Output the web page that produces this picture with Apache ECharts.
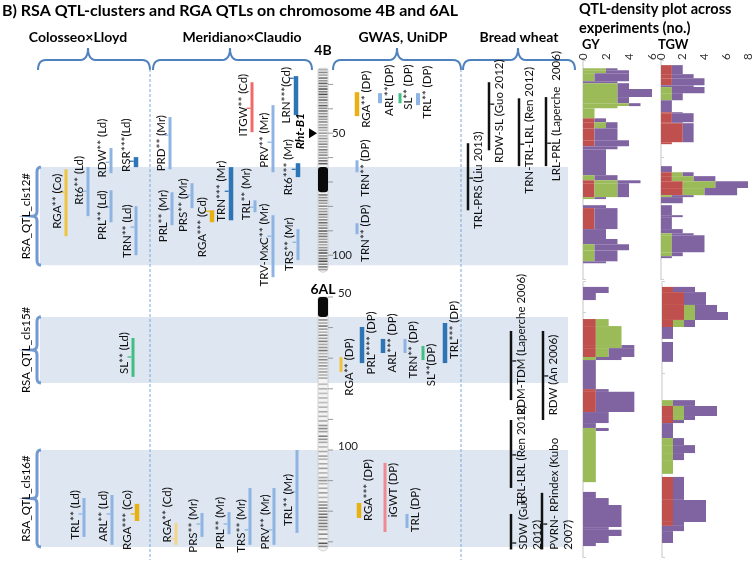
<!DOCTYPE html>
<html><head><meta charset="utf-8">
<script src="https://cdn.jsdelivr.net/npm/echarts@6/dist/echarts.min.js"></script>
<style>html,body{margin:0;padding:0;background:#fff}#c{width:755px;height:565px}</style>
</head><body><div id="c"></div>
<script>
// ================= DATA =================
const chartTitle = 'B) RSA QTL-clusters and RGA QTLs on chromosome 4B and 6AL';
const densityTitle = ['QTL-density plot across', 'experiments (no.)'];
const panelHeaders = ['Colosseo×Lloyd', 'Meridiano×Claudio', 'GWAS, UniDP', 'Bread wheat'];
const densityTraits = ['GY', 'TGW'];
const gyTicks = [0, 2, 4, 6];
const tgwTicks = [0, 2, 4, 6, 8];
const chrNames = ['4B', '6AL'];
const chrExtent4B = [23.4, 107];
const chrExtent6AL = [50, 133];
const chrSolid4B = [[63.9, 74.2]];
const chrSolid6AL = [[50, 56.5]];
const chrTicks4B = [30, 40, 50, 60, 70, 80, 90, 100];
const chrTicks6AL = [50, 60, 70, 80, 90, 100, 110, 120, 130];
const chrTickLabels = [50, 100];
const geneMarker4B = ['Rht-B1', 50];
// chromosome banding [cM, darkness]
const chrBands4B = [[24.0,0.3],[25.1,0.5],[26.2,0.35],[27.4,0.6],[28.5,0.45],[29.6,0.7],[30.8,0.5],[31.9,0.75],[33.0,0.55],[34.1,0.8],[35.3,0.5],[36.4,0.65],[37.5,0.4],[38.7,0.7],[39.8,0.5],[40.9,0.6],[42.0,0.45],[43.2,0.55],[44.3,0.4],[45.4,0.5],[46.6,0.35],[47.7,0.45],[48.8,0.3],[50.0,0.4],[51.1,0.3],[52.2,0.45],[53.4,0.35],[54.5,0.5],[55.6,0.4],[56.8,0.55],[57.9,0.4],[59.0,0.5],[60.2,0.45],[61.3,0.6],[62.5,0.7],[75.3,0.6],[76.4,0.45],[77.6,0.55],[78.7,0.4],[79.9,0.5],[81.0,0.35],[82.1,0.45],[83.3,0.6],[84.4,0.4],[85.5,0.5],[86.7,0.65],[87.8,0.4],[88.9,0.55],[90.1,0.7],[91.2,0.5],[92.3,0.6],[93.5,0.4],[94.6,0.5],[95.7,0.35],[96.9,0.45],[98.0,0.6],[99.1,0.75],[100.3,0.5],[101.4,0.65],[102.5,0.8],[103.7,0.55],[104.8,0.6],[105.9,0.4]];
const chrBands6AL = [[57.5,0.5],[58.5,0.35],[59.5,0.6],[60.5,0.4],[61.5,0.3],[62.5,0.5],[63.5,0.4],[64.5,0.55],[65.5,0.35],[66.5,0.45],[67.5,0.6],[68.5,0.3],[69.5,0.4],[70.5,0.5],[71.5,0.35],[72.5,0.45],[73.5,0.3],[74.5,0.4],[75.5,0.3],[76.5,0.35],[78.5,0.25],[80.0,0.3],[81.5,0.25],[83.0,0.3],[84.5,0.25],[86.0,0.3],[87.5,0.35],[89.0,0.3],[90.5,0.35],[92.0,0.45],[93.0,0.5],[94.0,0.4],[95.5,0.55],[96.5,0.45],[97.5,0.35],[99.0,0.3],[100.5,0.35],[102.0,0.4],[103.0,0.3],[104.5,0.35],[106.0,0.4],[107.5,0.3],[109.0,0.35],[110.0,0.45],[111.0,0.3],[112.5,0.35],[114.0,0.4],[115.5,0.3],[117.0,0.4],[118.0,0.5],[119.0,0.55],[120.0,0.45],[121.0,0.6],[122.0,0.65],[123.0,0.5],[124.0,0.6],[125.0,0.55],[126.0,0.45],[127.5,0.5],[129.0,0.4],[130.5,0.75],[131.5,0.5]];
// QTL clusters [name, start cM, end cM]
const clusters4B = [['RSA_QTL_cls12#', 63.9, 104.1]];
const clusters6AL = [['RSA_QTL_cls15#', 56.5, 78.1], ['RSA_QTL_cls16#', 100, 131.7]];
// QTLs [label, start cM, end cM, peak cM (null = none)]
const qtl4B = [
  ['RGA** (Co)', 64.8, 92.2, 74.2],
  ['Rt6** (Ld)', 63.9, 84.0, 73.8],
  ['RDW** (Ld)', 56.1, 66.4, 61.9],
  ['PRL** (Ld)', 73.4, 86.5, 80.3],
  ['RSR***(Ld)', 59.8, 63.9, 61.5],
  ['TRN** (Ld)', 79.9, 100.0, 88.5],
  ['PRD** (Mr)', 43.4, 64.8, 50.8],
  ['ITGW** (Cd)', 29.1, 49.6, 39.8],
  ['PRV** (Mr)', 38.5, 66.0, 53.7],
  ['LRN***(Cd)', 26.6, 42.6, 27.5],
  ['Rt6*** (Mr)', 62.3, 68.0, 64.8],
  ['PRL** (Mr)', 74.2, 87.7, 81.1],
  ['PRS** (Mr)', 70.5, 80.7, 75.4],
  ['RGA*** (Cd)', 81.6, 86.5, 82.0],
  ['TRN*** (Mr)', 63.9, 85.7, 73.8],
  ['TRL** (Mr)', 77.5, 82.4, 80.3],
  ['TRV-MxC** (Mr)', 83.6, 109.0, 92.2],
  ['TRS** (Mr)', 89.3, 102.0, 94.7],
  ['RGA** (DP)', 33.2, 43.0, null],
  ['ARL**(DP)', 33.6, 37.7, null],
  ['SL** (DP)', 33.6, 37.7, null],
  ['TRL** (DP)', 33.6, 38.5, null],
  ['TRN** (DP)', 61.1, 66.0, null],
  ['TRN** (DP)', 86.9, 91.4, null],
  ['RDW-SL (Guo 2012)', 29.1, 57.0, 38.1],
  ['TRN-TRL-LRL (Ren 2012)', 35.7, 63.5, 54.5],
  ['LRL-PRL (Laperche  2006)', 35.2, 63.5, 54.1],
  ['TRL-PRS (Liu 2013)', 54.1, 81.6, 68.4]
];
const qtl6AL = [
  ['SL** (Ld)', 63.4, 76.1, 69.6],
  ['TRL** (Ld)', 115.7, 128.4, 120.9],
  ['ARL** (Ld)', 114.7, 131.0, 120.9],
  ['RGA*** (Co)', 117.6, 123.2, 120.9],
  ['RGA** (Cd)', 123.9, 131.0, 129.0],
  ['PRS** (Mr)', 120.6, 128.4, 124.2],
  ['PRL** (Mr)', 120.3, 127.5, 124.2],
  ['TRS** (Mr)', 112.4, 131.0, 126.1],
  ['PRV** (Mr)', 112.4, 131.0, 126.1],
  ['TRL** (Mr)', 100.0, 127.1, 113.7],
  ['RGA** (DP)', 69.6, 74.5, null],
  ['PRL**** (DP)', 59.8, 71.6, null],
  ['ARL*** (DP)', 63.7, 68.3, null],
  ['TRN** (DP)', 63.7, 68.3, null],
  ['SL**(DP)', 66.0, 70.6, null],
  ['TRL*** (DP)', 58.5, 71.6, null],
  ['RGA*** (DP)', 117.3, 122.2, null],
  ['iGWT (DP)', 104.2, 126.8, null],
  ['TRL (DP)', 120.9, 125.5, null],
  ['RDM-TDM (Laperche 2006)', 61.1, 83.7, 70.9],
  ['RDW (An 2006)', 61.1, 90.2, 75.8],
  ['TRL-LRL (Ren 2012)', 90.2, 112.4, 101.6],
  ['SDW (Guo\n2012)', 120.9, 132.5, 130.4],
  ['PVRN- RPindex (Kubo\n2007)', 114.0, 132.5, 124.2]
];
// QTL density: [start cM, end cM, red, green, purple]
const gy4B = [[23.4,24.2,0,2,1],[24.2,25.4,0,2,2],[25.4,28.7,0,1,3],[28.7,29.5,0,0,3],[29.5,31.9,0,3,1],[31.9,35.2,0,3,3],[35.2,37.7,0,3,1],[37.7,38.9,0,4,1],[38.9,39.8,0,3,0],[39.8,43.9,0,1,0],[43.9,45.5,1,0,1],[45.5,48.0,1,1,1],[48.0,52.9,1,0,2],[52.9,55.3,1,0,3],[55.3,56.6,0,0,3],[56.6,67.2,0,0,2],[67.2,69.3,0,1,2],[69.3,70.5,1,2,2],[70.5,76.2,1,2,1],[76.2,77.0,0,1,1],[79.5,80.7,0,0,2],[80.7,89.3,1,0,2],[89.3,93.4,0,0,2],[93.4,95.5,0,0,3],[95.5,98.0,0,1,3],[98.0,102.5,0,1,2],[102.5,103.3,0,0,2]];
const tgw4B = [[22.1,25.8,1,0,1],[25.8,27.5,1,0,2],[27.5,30.3,1,0,3],[30.3,31.1,0,0,3],[31.1,33.6,0,1,3],[33.6,36.5,0,1,1],[36.5,41.4,0,0,1],[41.4,41.8,1,0,1],[41.8,45.5,1,0,2],[45.5,45.9,1,0,1],[45.9,53.7,2,0,1],[53.7,54.5,1,0,0],[63.5,66.0,0,0,1],[66.0,67.6,1,1,1],[67.6,69.7,1,2,2],[69.7,72.5,2,3,3],[72.5,75.4,2,2,3],[75.4,76.2,0,1,2],[76.2,78.7,0,0,2],[79.5,83.6,0,0,1],[83.6,84.4,0,0,2],[84.4,89.3,0,0,1],[89.3,91.0,0,0,2],[91.0,91.8,0,1,2],[91.8,98.8,0,1,3],[98.8,100.4,0,1,1],[100.4,101.2,0,0,1]];
const gy6AL = [[46.7,48.7,0,0,2],[48.7,51.0,0,0,1],[57.2,59.5,1,1,0],[59.5,65.7,1,2,0],[65.7,66.7,1,2,1],[66.7,69.6,1,1,2],[69.6,70.6,0,1,2],[70.6,80.1,0,0,1],[80.1,81.0,1,0,1],[81.0,87.6,1,0,3],[87.6,91.2,0,0,2],[91.2,92.8,0,0,1],[92.8,93.8,0,1,1],[93.8,110.5,0,1,0],[113.7,115.7,0,0,1],[115.7,118.0,0,0,2],[118.0,125.2,0,0,3],[125.2,126.1,0,0,2],[126.1,128.1,0,0,3],[128.1,130.4,0,0,2],[130.4,131.4,0,0,1]];
const tgw6AL = [[46.7,48.4,1,0,2],[48.4,52.6,2,0,2],[52.6,54.9,2,1,2],[54.9,57.5,2,1,3],[57.5,59.8,1,1,1],[59.8,63.7,0,0,1],[64.7,71.2,0,0,1],[83.7,85.6,0,1,2],[85.6,88.9,1,1,3],[88.9,90.2,1,1,1],[90.2,91.2,1,0,1],[91.2,96.1,0,0,1],[96.1,98.4,0,1,1],[98.4,101.0,0,1,2],[101.0,103.3,0,1,1],[103.3,107.8,0,1,0],[108.8,116.3,1,0,1],[116.3,123.5,1,0,3],[123.5,124.8,1,0,1],[124.8,126.5,0,0,2],[126.5,130.4,0,0,1]];

// ================= LAYOUT / STYLE =================
const FONT = 'Lato, "Open Sans", sans-serif';
const LABEL_FONT = '11.5px ' + FONT;
const STY = {
  lb: {c: '#8eb4e3', w: 3}, lbt: {c: '#8eb4e3', w: 4}, db: {c: '#2e75b6', w: 4.5},
  yl: {c: '#f0c33c', w: 3}, yt: {c: '#e8b010', w: 4.5}, ylt: {c: '#f4d488', w: 3},
  rd: {c: '#f06a6c', w: 3}, pk: {c: '#ee8a90', w: 3}, gn: {c: '#3fc081', w: 3}, bk: {c: '#111', w: 2.5}
};
// per QTL: [x, style, side(L=label left, R=label right, B=bread wheat, BS=bread wheat two-line), label centre cM]
const lay4B = [
  [66,'yl','L',77.9],[88,'lb','L',69.3],[111,'lb','L',56.1],[111,'lb','L',83.6],[136,'db','L',54.9],[136,'lb','L',90.2],
  [170,'lb','L',54.1],[252,'rd','L',38.5],[273,'lb','L',52.9],[296,'db','L',34.4],[298,'db','L',63.9],[172,'lb','L',84.0],
  [192,'lb','L',79.5],[212,'yt','L',88.5],[231,'db','L',73.8],[255,'lb','L',75.0],[273,'lb','L',95.9],[298,'lb','L',95.5],
  [357,'yt','R',36.1],[380,'lbt','R',32.4],[400,'gn','R',31.1],[418,'lbt','R',33.2],[357,'lb','R',64.3],[357,'lb','R',91.0],
  [489,'bk','B',41.0],[519,'bk','B',48.8],[546,'bk','B',43.0],[468,'bk','B',69.3]
];
const lay6AL = [
  [133,'gn','L',68.3],[84,'lb','L',121.2],[112,'lb','L',121.6],[137,'yt','L',122.9],[176,'ylt','L',121.2],[202,'lb','L',124.8],
  [229,'lb','L',123.9],[250,'lb','L',124.8],[274,'lb','L',123.5],[297,'lb','L',116.3],
  [341,'yl','R',72.9],[362,'db','R',65.0],[383,'db','R',65.0],[405,'lb','R',67.3],[423,'gn','R',72.2],[445,'db','R',60.8],
  [359,'yt','R',113.1],[385,'pk','R',113.1],[407,'lb','R',119.6],
  [511,'bk','B',65.5],[543,'bk','B',75.5],[511,'bk','B',101.8],[511,'bk','BS',132.6],[542,'bk','BS',132.6]
];
const L = {chrX: 323, chrW: 10, bandX0: 40, bandX1: 568, bracketX: 37, clusterLabelX: 26};
const DENS_COL = ['#c0504d', '#9bbb59', '#8064a2'];

// ================= RENDERERS =================
function qtlSeries(g, data, lay) {
  return {
    type: 'custom', xAxisIndex: g, yAxisIndex: g, z: 6, clip: false,
    encode: {x: 0, y: [1, 2]},
    data: data.map((d, i) => [lay[i][0], d[1], d[2], i]),
    renderItem: (params, api) => {
      const i = api.value(3), d = data[i], ly = lay[i], st = STY[ly[1]];
      const a = api.coord([ly[0], d[1]]), b = api.coord([ly[0], d[2]]);
      const x = a[0];
      const ch = [{type: 'rect', shape: {x: x - st.w / 2, y: a[1], width: st.w, height: b[1] - a[1]}, style: {fill: st.c}}];
      const side = ly[2];
      if (d[3] != null) {
        const p = api.coord([ly[0], d[3]]);
        const dir = side === 'L' ? -1 : 1;
        ch.push({type: 'line', shape: {x1: x + dir * st.w / 2, y1: p[1], x2: x + dir * (st.w / 2 + 4), y2: p[1]}, style: {stroke: st.c, lineWidth: 1.3}});
      }
      const lc = api.coord([ly[0], ly[3]]);
      let lx, align = 'center', va = 'middle';
      if (side === 'L') lx = x - st.w / 2 - 7;
      else if (side === 'R') lx = x + st.w / 2 + 7;
      else if (side === 'B') lx = x + st.w / 2 + 9.5;
      else { lx = x + st.w / 2 + 4; align = 'left'; va = 'top'; }
      ch.push({type: 'text', x: lx, y: lc[1], rotation: Math.PI / 2,
        style: {text: d[0], font: LABEL_FONT, fill: '#111', align: align, verticalAlign: va, lineHeight: 14}});
      return {type: 'group', children: ch};
    }
  };
}
function quad(p0, p1, p2, n) {
  const pts = [];
  for (let k = 0; k <= n; k++) {
    const t = k / n, u = 1 - t;
    pts.push([u * u * p0[0] + 2 * u * t * p1[0] + t * t * p2[0], u * u * p0[1] + 2 * u * t * p1[1] + t * t * p2[1]]);
  }
  return pts;
}
function clusterSeries(g, data) {
  return {
    type: 'custom', xAxisIndex: g, yAxisIndex: g, z: 1, clip: false,
    encode: {x: 0, y: [1, 2]},
    data: data.map((d, i) => [L.bandX0, d[1], d[2], i]),
    renderItem: (params, api) => {
      const d = data[api.value(3)];
      const a = api.coord([L.bandX0, d[1]]), b = api.coord([L.bandX1, d[2]]);
      const m = (a[1] + b[1]) / 2, X = L.bracketX;
      let pts = [];
      pts = pts.concat(quad([X + 4, a[1]], [X, a[1]], [X, a[1] + 5], 6));
      pts = pts.concat(quad([X, m - 5], [X, m], [X - 5, m], 5));
      pts = pts.concat(quad([X - 5, m], [X, m], [X, m + 5], 5));
      pts = pts.concat(quad([X, b[1] - 5], [X, b[1]], [X + 4, b[1]], 6));
      return {type: 'group', children: [
        {type: 'rect', shape: {x: a[0], y: a[1], width: b[0] - a[0], height: b[1] - a[1]}, style: {fill: '#dde6f1'}},
        {type: 'polyline', shape: {points: pts}, style: {stroke: '#7299d1', lineWidth: 3, fill: null}},
        {type: 'text', x: L.clusterLabelX, y: m, rotation: Math.PI / 2, style: {text: d[0], font: '11.5px ' + FONT, fill: '#000', align: 'center', verticalAlign: 'middle'}}
      ]};
    }
  };
}
function chrSeries(g, ext, solids, bands, ticks, name, nameDy, labDx, labDy, marker) {
  return {
    type: 'custom', xAxisIndex: g, yAxisIndex: g, z: 4, clip: false,
    encode: {x: 0, y: [1, 2]},
    data: [[L.chrX, ext[0], ext[1]]],
    renderItem: (params, api) => {
      const top = api.coord([L.chrX, ext[0]]), bot = api.coord([L.chrX, ext[1]]);
      const x0 = top[0] - L.chrW / 2, ch = [];
      ch.push({type: 'rect', shape: {x: x0, y: top[1], width: L.chrW, height: bot[1] - top[1], r: [2, 2, 5, 5]}, style: {fill: '#f3f3f3', stroke: '#c9c9c9', lineWidth: 0.8}});
      bands.forEach(bd => {
        const p = api.coord([L.chrX, bd[0]]); const v = Math.round(238 - bd[1] * 200);
        ch.push({type: 'rect', shape: {x: x0 + 0.5, y: p[1] - 0.8, width: L.chrW - 1, height: 1.6}, style: {fill: 'rgb(' + v + ',' + v + ',' + v + ')'}});
      });
      solids.forEach(s => {
        const p = api.coord([L.chrX, s[0]]), q = api.coord([L.chrX, s[1]]);
        ch.push({type: 'rect', shape: {x: x0, y: p[1], width: L.chrW, height: q[1] - p[1], r: 3}, style: {fill: '#0a0a0a'}});
      });
      ticks.forEach(t => {
        const p = api.coord([L.chrX, t]);
        ch.push({type: 'line', shape: {x1: x0 + L.chrW, y1: p[1], x2: x0 + L.chrW + 5, y2: p[1]}, style: {stroke: '#9a9a9a', lineWidth: 1}});
        if (chrTickLabels.indexOf(t) >= 0)
          ch.push({type: 'text', x: x0 + L.chrW + labDx, y: p[1] + labDy, style: {text: String(t), font: '11.5px ' + FONT, fill: '#222', align: 'left', verticalAlign: 'middle'}});
      });
      ch.push({type: 'text', x: top[0], y: top[1] + nameDy, style: {text: name, font: 'bold 14px ' + FONT, fill: '#000', align: 'center', verticalAlign: 'middle'}});
      if (marker) {
        const p = api.coord([L.chrX, marker[1]]);
        ch.push({type: 'polygon', shape: {points: [[x0 - 9, p[1] - 5], [x0 - 9, p[1] + 5], [x0 - 1, p[1]]]}, style: {fill: '#000'}});
        ch.push({type: 'text', x: x0 - 18, y: p[1] - 2, rotation: Math.PI / 2, style: {text: marker[0], font: 'italic bold 12px ' + FONT, fill: '#000', align: 'center', verticalAlign: 'middle'}});
      }
      return {type: 'group', children: ch};
    }
  };
}
function densSeries(g, segs) {
  return {
    type: 'custom', xAxisIndex: g, yAxisIndex: g, z: 3,
    encode: {x: [2, 3, 4], y: [0, 1]},
    data: segs,
    renderItem: (params, api) => {
      const y0 = api.value(0), y1 = api.value(1), r = api.value(2), gg = api.value(3), p = api.value(4);
      const parts = [[0, r, DENS_COL[0]], [r, r + gg, DENS_COL[1]], [r + gg, r + gg + p, DENS_COL[2]]];
      const ch = [];
      parts.forEach(pt => {
        if (pt[1] > pt[0]) {
          const A = api.coord([pt[0], y0]), B = api.coord([pt[1], y1]);
          ch.push({type: 'rect', shape: {x: A[0], y: A[1], width: B[0] - A[0], height: B[1] - A[1]}, style: {fill: pt[2]}});
        }
      });
      return {type: 'group', children: ch};
    }
  };
}

// ================= GRIDS / AXES =================
const grids = [
  {left: 0, top: 60, width: 575, height: 219.6},     // 0 main 4B
  {left: 0, top: 281.7, width: 575, height: 275.4},  // 1 main 6AL
  {left: 583, top: 60, width: 69, height: 219.6},    // 2 GY 4B
  {left: 661, top: 60, width: 87, height: 219.6},    // 3 TGW 4B
  {left: 583, top: 281.7, width: 77, height: 275.4}, // 4 GY 6AL
  {left: 662, top: 281.7, width: 88, height: 275.4}  // 5 TGW 6AL
];
const hiddenX = {type: 'value', min: 0, max: 575, show: false};
const densX = (g, ticks, showLab) => ({
  type: 'value', gridIndex: g, position: 'top', min: 0, max: ticks[ticks.length - 1], interval: 2,
  show: showLab, axisLine: {show: false}, axisTick: {show: false}, splitLine: {show: false},
  axisLabel: {rotate: -90, margin: 0, fontSize: 11.5, color: '#333', fontFamily: FONT}
});
const yAx = (g, mn, mx, show) => ({
  type: 'value', gridIndex: g, inverse: true, min: mn, max: mx, interval: 10, show: show,
  axisLine: {show: true, lineStyle: {color: '#d9d9d9', width: 1.5}},
  axisTick: {show: true, inside: true, length: 3, lineStyle: {color: '#d0d0d0'}},
  axisLabel: {show: false}, splitLine: {show: false}
});

// ================= GRAPHIC =================
function bracePts(x1, x2, xm) {
  const yb = 70, yt = 60, yp = 48, r = 8;
  let p = [];
  p = p.concat(quad([x1, yb], [x1, yt], [x1 + r, yt], 6));
  p = p.concat(quad([xm - r, yt], [xm, yt], [xm, yp], 6));
  p = p.concat(quad([xm, yp], [xm, yt], [xm + r, yt], 6));
  p = p.concat(quad([x2 - r, yt], [x2, yt], [x2, yb], 6));
  return p;
}
const braceLay = [[38, 150, 88], [153, 312, 230], [333, 461, 397], [463, 575, 518]];
const headerX = [78, 242, 403, 519];
const graphic = [
  {type: 'text', x: 2, y: 11, style: {text: chartTitle, font: 'bold 16px ' + FONT, fill: '#000', verticalAlign: 'middle'}},
  {type: 'text', x: 579, y: 9, style: {text: densityTitle[0], font: 'bold 14.5px ' + FONT, fill: '#000', verticalAlign: 'middle'}},
  {type: 'text', x: 579, y: 28, style: {text: densityTitle[1], font: 'bold 14.5px ' + FONT, fill: '#000', verticalAlign: 'middle'}},
  {type: 'text', x: 582, y: 45, style: {text: densityTraits[0], font: 'bold 13px ' + FONT, fill: '#000', verticalAlign: 'middle'}},
  {type: 'text', x: 658, y: 45, style: {text: densityTraits[1], font: 'bold 13px ' + FONT, fill: '#000', verticalAlign: 'middle'}}
];
panelHeaders.forEach((h, i) => graphic.push({type: 'text', x: headerX[i], y: 37, style: {text: h, font: 'bold 14px ' + FONT, fill: '#000', align: 'center', verticalAlign: 'middle'}}));
braceLay.forEach(b => graphic.push({type: 'polyline', shape: {points: bracePts(b[0], b[1], b[2])}, style: {stroke: '#4f81bd', lineWidth: 2, fill: null}}));
[150, 461].forEach(x => graphic.push({type: 'line', z: 50, shape: {x1: x, y1: 69, x2: x, y2: 560}, style: {stroke: '#7ea6d8', lineWidth: 1, lineDash: [3, 2]}}));

const option = {
  animation: false,
  backgroundColor: '#fff',
  grid: grids,
  xAxis: [
    Object.assign({gridIndex: 0}, hiddenX), Object.assign({gridIndex: 1}, hiddenX),
    densX(2, gyTicks, true), densX(3, tgwTicks, true), densX(4, gyTicks, false), densX(5, tgwTicks, false)
  ],
  yAxis: [yAx(0, 20, 110, false), yAx(1, 45, 135, false), yAx(2, 20, 110, true), yAx(3, 20, 110, true), yAx(4, 45, 135, true), yAx(5, 45, 135, true)],
  graphic: graphic,
  series: [
    clusterSeries(0, clusters4B), clusterSeries(1, clusters6AL),
    chrSeries(0, chrExtent4B, chrSolid4B, chrBands4B, chrTicks4B, chrNames[0], -18, 4, 0, geneMarker4B),
    chrSeries(1, chrExtent6AL, chrSolid6AL, chrBands6AL, chrTicks6AL, chrNames[1], -8, 10, -4, null),
    qtlSeries(0, qtl4B, lay4B), qtlSeries(1, qtl6AL, lay6AL),
    densSeries(2, gy4B), densSeries(3, tgw4B), densSeries(4, gy6AL), densSeries(5, tgw6AL)
  ]
};
const chart = echarts.init(document.getElementById('c'), null, {renderer: 'canvas'});
chart.setOption(option);
</script></body></html>
